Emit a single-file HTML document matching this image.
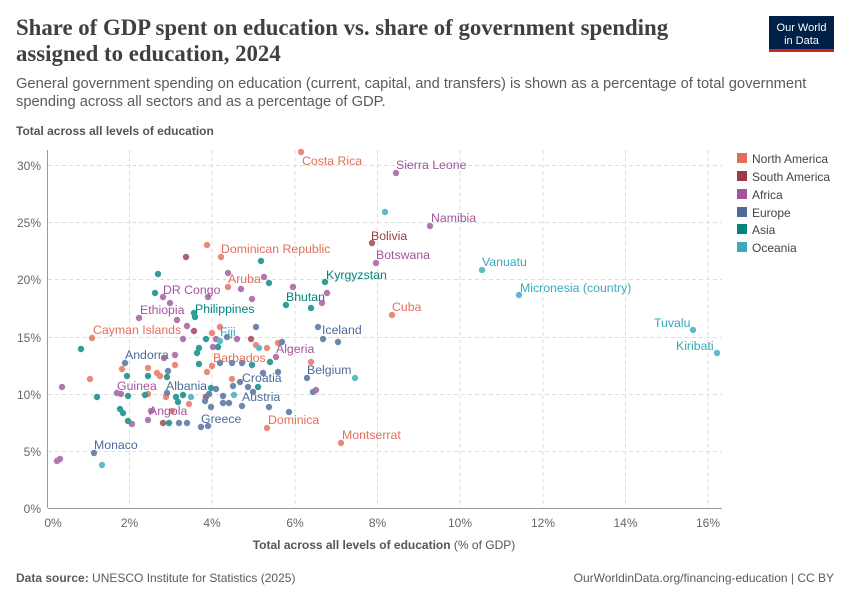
<!DOCTYPE html>
<html><head><meta charset="utf-8"><style>
body{margin:0;background:#fff;width:850px;height:600px;overflow:hidden;font-family:"Liberation Sans",sans-serif}
</style></head><body>
<svg width="850" height="600" xmlns="http://www.w3.org/2000/svg" font-family="Liberation Sans, sans-serif">
<text x="16" y="35" font-family="Liberation Serif, serif" font-size="22.8" font-weight="bold" fill="#404040">Share of GDP spent on education vs. share of government spending</text>
<text x="16" y="61" font-family="Liberation Serif, serif" font-size="22.8" font-weight="bold" fill="#404040">assigned to education, 2024</text>
<text x="16" y="88" font-size="14.7" fill="#5b5b5b">General government spending on education (current, capital, and transfers) is shown as a percentage of total government</text>
<text x="16" y="106" font-size="14.7" fill="#5b5b5b">spending across all sectors and as a percentage of GDP.</text>
<rect x="769" y="16" width="65" height="34" fill="#002147"/>
<rect x="769" y="49" width="65" height="3" fill="#ce261e"/>
<text x="801.5" y="31" font-size="11" fill="#fff" text-anchor="middle">Our World</text>
<text x="801.5" y="44" font-size="11" fill="#fff" text-anchor="middle">in Data</text>
<text x="16" y="135" font-size="12" font-weight="bold" fill="#555">Total across all levels of education</text>
<g stroke="#ddd" stroke-dasharray="4,3" stroke-width="1">
<line x1="48" y1="165.5" x2="722" y2="165.5"/><line x1="48" y1="222.5" x2="722" y2="222.5"/>
<line x1="48" y1="279.5" x2="722" y2="279.5"/><line x1="48" y1="337.5" x2="722" y2="337.5"/>
<line x1="48" y1="394.5" x2="722" y2="394.5"/><line x1="48" y1="451.5" x2="722" y2="451.5"/>
<line x1="129.5" y1="150" x2="129.5" y2="508"/><line x1="212" y1="150" x2="212" y2="508"/>
<line x1="295" y1="150" x2="295" y2="508"/><line x1="377.5" y1="150" x2="377.5" y2="508"/>
<line x1="460" y1="150" x2="460" y2="508"/><line x1="543" y1="150" x2="543" y2="508"/>
<line x1="625.5" y1="150" x2="625.5" y2="508"/><line x1="708" y1="150" x2="708" y2="508"/>
</g>
<line x1="48" y1="508.5" x2="722" y2="508.5" stroke="#999"/>
<line x1="47.5" y1="150" x2="47.5" y2="508" stroke="#999"/>
<g font-size="12" fill="#666" text-anchor="end">
<text x="41" y="170">30%</text><text x="41" y="227">25%</text><text x="41" y="284">20%</text>
<text x="41" y="342">15%</text><text x="41" y="399">10%</text><text x="41" y="456">5%</text><text x="41" y="513">0%</text>
</g>
<g font-size="12" fill="#666" text-anchor="middle">
<text x="53" y="527">0%</text><text x="129.5" y="527">2%</text><text x="212" y="527">4%</text><text x="295" y="527">6%</text>
<text x="377.5" y="527">8%</text><text x="460" y="527">10%</text><text x="543" y="527">12%</text><text x="625.5" y="527">14%</text><text x="708" y="527">16%</text>
</g>
<text x="384" y="549" font-size="12" fill="#555" text-anchor="middle"><tspan font-weight="bold">Total across all levels of education</tspan> (% of GDP)</text>
<text x="16" y="582" font-size="12" fill="#5b5b5b"><tspan font-weight="bold">Data source:</tspan> UNESCO Institute for Statistics (2025)</text>
<text x="834" y="582" font-size="12" fill="#5b5b5b" text-anchor="end">OurWorldinData.org/financing-education | CC BY</text>
<g font-size="12" fill="#444">
<rect x="737" y="153" width="10" height="10" fill="#e56e5a"/><text x="752" y="163">North America</text>
<rect x="737" y="171" width="10" height="10" fill="#9a3c48"/><text x="752" y="181">South America</text>
<rect x="737" y="189" width="10" height="10" fill="#a2559c"/><text x="752" y="199">Africa</text>
<rect x="737" y="207" width="10" height="10" fill="#4c6a9c"/><text x="752" y="217">Europe</text>
<rect x="737" y="224" width="10" height="10" fill="#00847e"/><text x="752" y="234">Asia</text>
<rect x="737" y="242" width="10" height="10" fill="#38aaba"/><text x="752" y="252">Oceania</text>
</g>
<g opacity="0.8">
<g fill="#e56e5a">
<circle cx="301" cy="152" r="3.2"/><circle cx="392" cy="315" r="3.2"/><circle cx="228" cy="287" r="3.2"/><circle cx="207" cy="245" r="3.2"/><circle cx="221" cy="257" r="3.2"/><circle cx="212" cy="333" r="3.2"/><circle cx="220" cy="327" r="3.2"/><circle cx="92" cy="338" r="3.2"/><circle cx="256" cy="345" r="3.2"/><circle cx="267" cy="348" r="3.2"/><circle cx="278" cy="343" r="3.2"/><circle cx="212" cy="366" r="3.2"/><circle cx="311" cy="362" r="3.2"/><circle cx="175" cy="365" r="3.2"/><circle cx="122" cy="369" r="3.2"/><circle cx="148" cy="368" r="3.2"/><circle cx="157" cy="373" r="3.2"/><circle cx="160" cy="376" r="3.2"/><circle cx="90" cy="379" r="3.2"/><circle cx="207" cy="372" r="3.2"/><circle cx="232" cy="379" r="3.2"/><circle cx="148" cy="394" r="3.2"/><circle cx="166" cy="397" r="3.2"/><circle cx="189" cy="404" r="3.2"/><circle cx="172" cy="411" r="3.2"/><circle cx="267" cy="428" r="3.2"/><circle cx="341" cy="443" r="3.2"/>
</g>
<g fill="#9a3c48">
<circle cx="372" cy="243" r="3.2"/><circle cx="186" cy="257" r="3.2"/><circle cx="194" cy="331" r="3.2"/><circle cx="251" cy="339" r="3.2"/><circle cx="206" cy="397" r="3.2"/><circle cx="163" cy="423" r="3.2"/>
</g>
<g fill="#a2559c">
<circle cx="396" cy="173" r="3.2"/><circle cx="430" cy="226" r="3.2"/><circle cx="376" cy="263" r="3.2"/><circle cx="228" cy="273" r="3.2"/><circle cx="264" cy="277" r="3.2"/><circle cx="241" cy="289" r="3.2"/><circle cx="163" cy="297" r="3.2"/><circle cx="170" cy="303" r="3.2"/><circle cx="208" cy="297" r="3.2"/><circle cx="252" cy="299" r="3.2"/><circle cx="293" cy="287" r="3.2"/><circle cx="327" cy="293" r="3.2"/><circle cx="322" cy="303" r="3.2"/><circle cx="139" cy="318" r="3.2"/><circle cx="177" cy="320" r="3.2"/><circle cx="187" cy="326" r="3.2"/><circle cx="183" cy="339" r="3.2"/><circle cx="216" cy="339" r="3.2"/><circle cx="237" cy="339" r="3.2"/><circle cx="213" cy="347" r="3.2"/><circle cx="276" cy="357" r="3.2"/><circle cx="175" cy="355" r="3.2"/><circle cx="164" cy="358" r="3.2"/><circle cx="62" cy="387" r="3.2"/><circle cx="117" cy="393" r="3.2"/><circle cx="121" cy="394" r="3.2"/><circle cx="316" cy="390" r="3.2"/><circle cx="151" cy="411" r="3.2"/><circle cx="132" cy="424" r="3.2"/><circle cx="148" cy="420" r="3.2"/><circle cx="57" cy="461" r="3.2"/><circle cx="60" cy="459" r="3.2"/>
</g>
<g fill="#4c6a9c">
<circle cx="256" cy="327" r="3.2"/><circle cx="318" cy="327" r="3.2"/><circle cx="323" cy="339" r="3.2"/><circle cx="338" cy="342" r="3.2"/><circle cx="227" cy="337" r="3.2"/><circle cx="282" cy="342" r="3.2"/><circle cx="125" cy="363" r="3.2"/><circle cx="220" cy="363" r="3.2"/><circle cx="232" cy="363" r="3.2"/><circle cx="242" cy="363" r="3.2"/><circle cx="168" cy="371" r="3.2"/><circle cx="263" cy="373" r="3.2"/><circle cx="278" cy="372" r="3.2"/><circle cx="307" cy="378" r="3.2"/><circle cx="233" cy="386" r="3.2"/><circle cx="240" cy="382" r="3.2"/><circle cx="248" cy="387" r="3.2"/><circle cx="253" cy="392" r="3.2"/><circle cx="216" cy="389" r="3.2"/><circle cx="167" cy="393" r="3.2"/><circle cx="205" cy="401" r="3.2"/><circle cx="209" cy="394" r="3.2"/><circle cx="223" cy="396" r="3.2"/><circle cx="313" cy="392" r="3.2"/><circle cx="211" cy="407" r="3.2"/><circle cx="223" cy="403" r="3.2"/><circle cx="229" cy="403" r="3.2"/><circle cx="242" cy="406" r="3.2"/><circle cx="269" cy="407" r="3.2"/><circle cx="289" cy="412" r="3.2"/><circle cx="179" cy="423" r="3.2"/><circle cx="187" cy="423" r="3.2"/><circle cx="201" cy="427" r="3.2"/><circle cx="208" cy="426" r="3.2"/><circle cx="94" cy="453" r="3.2"/>
</g>
<g fill="#00847e">
<circle cx="325" cy="282" r="3.2"/><circle cx="158" cy="274" r="3.2"/><circle cx="261" cy="261" r="3.2"/><circle cx="269" cy="283" r="3.2"/><circle cx="155" cy="293" r="3.2"/><circle cx="286" cy="305" r="3.2"/><circle cx="311" cy="308" r="3.2"/><circle cx="194" cy="313" r="3.2"/><circle cx="195" cy="317" r="3.2"/><circle cx="81" cy="349" r="3.2"/><circle cx="206" cy="339" r="3.2"/><circle cx="199" cy="348" r="3.2"/><circle cx="218" cy="347" r="3.2"/><circle cx="197" cy="353" r="3.2"/><circle cx="252" cy="365" r="3.2"/><circle cx="270" cy="362" r="3.2"/><circle cx="199" cy="364" r="3.2"/><circle cx="167" cy="377" r="3.2"/><circle cx="127" cy="376" r="3.2"/><circle cx="148" cy="376" r="3.2"/><circle cx="258" cy="387" r="3.2"/><circle cx="211" cy="388" r="3.2"/><circle cx="97" cy="397" r="3.2"/><circle cx="128" cy="396" r="3.2"/><circle cx="145" cy="395" r="3.2"/><circle cx="176" cy="397" r="3.2"/><circle cx="183" cy="395" r="3.2"/><circle cx="178" cy="402" r="3.2"/><circle cx="120" cy="409" r="3.2"/><circle cx="123" cy="413" r="3.2"/><circle cx="128" cy="421" r="3.2"/><circle cx="169" cy="423" r="3.2"/>
</g>
<g fill="#38aaba">
<circle cx="385" cy="212" r="3.2"/><circle cx="482" cy="270" r="3.2"/><circle cx="519" cy="295" r="3.2"/><circle cx="693" cy="330" r="3.2"/><circle cx="717" cy="353" r="3.2"/><circle cx="220" cy="341" r="3.2"/><circle cx="259" cy="348" r="3.2"/><circle cx="355" cy="378" r="3.2"/><circle cx="191" cy="397" r="3.2"/><circle cx="234" cy="395" r="3.2"/><circle cx="102" cy="465" r="3.2"/>
</g>
</g>
<g font-size="12.3">
<text x="302" y="165" fill="#e56e5a">Costa Rica</text>
<text x="396" y="169" fill="#a2559c">Sierra Leone</text>
<text x="431" y="222" fill="#a2559c">Namibia</text>
<text x="371" y="240" fill="#9a3c48">Bolivia</text>
<text x="376" y="259" fill="#a2559c">Botswana</text>
<text x="221" y="253" fill="#e56e5a">Dominican Republic</text>
<text x="482" y="266" fill="#38aaba">Vanuatu</text>
<text x="326" y="279" fill="#00847e">Kyrgyzstan</text>
<text x="228" y="283" fill="#e56e5a">Aruba</text>
<text x="520" y="292" fill="#38aaba">Micronesia (country)</text>
<text x="163" y="294" fill="#a2559c">DR Congo</text>
<text x="286" y="301" fill="#00847e">Bhutan</text>
<text x="392" y="311" fill="#e56e5a">Cuba</text>
<text x="140" y="314" fill="#a2559c">Ethiopia</text>
<text x="195" y="313" fill="#00847e">Philippines</text>
<text x="654" y="327" fill="#38aaba">Tuvalu</text>
<text x="93" y="334" fill="#e56e5a">Cayman Islands</text>
<text x="322" y="334" fill="#4c6a9c">Iceland</text>
<text x="220" y="336" fill="#38aaba">Fiji</text>
<text x="676" y="350" fill="#38aaba">Kiribati</text>
<text x="276" y="353" fill="#a2559c">Algeria</text>
<text x="125" y="359" fill="#4c6a9c">Andorra</text>
<text x="213" y="362" fill="#e56e5a">Barbados</text>
<text x="307" y="374" fill="#4c6a9c">Belgium</text>
<text x="242" y="382" fill="#4c6a9c">Croatia</text>
<text x="117" y="390" fill="#a2559c">Guinea</text>
<text x="166" y="390" fill="#4c6a9c">Albania</text>
<text x="242" y="401" fill="#4c6a9c">Austria</text>
<text x="149" y="415" fill="#a2559c">Angola</text>
<text x="201" y="423" fill="#4c6a9c">Greece</text>
<text x="268" y="424" fill="#e56e5a">Dominica</text>
<text x="342" y="439" fill="#e56e5a">Montserrat</text>
<text x="94" y="449" fill="#4c6a9c">Monaco</text>
</g>
</svg>
</body></html>
